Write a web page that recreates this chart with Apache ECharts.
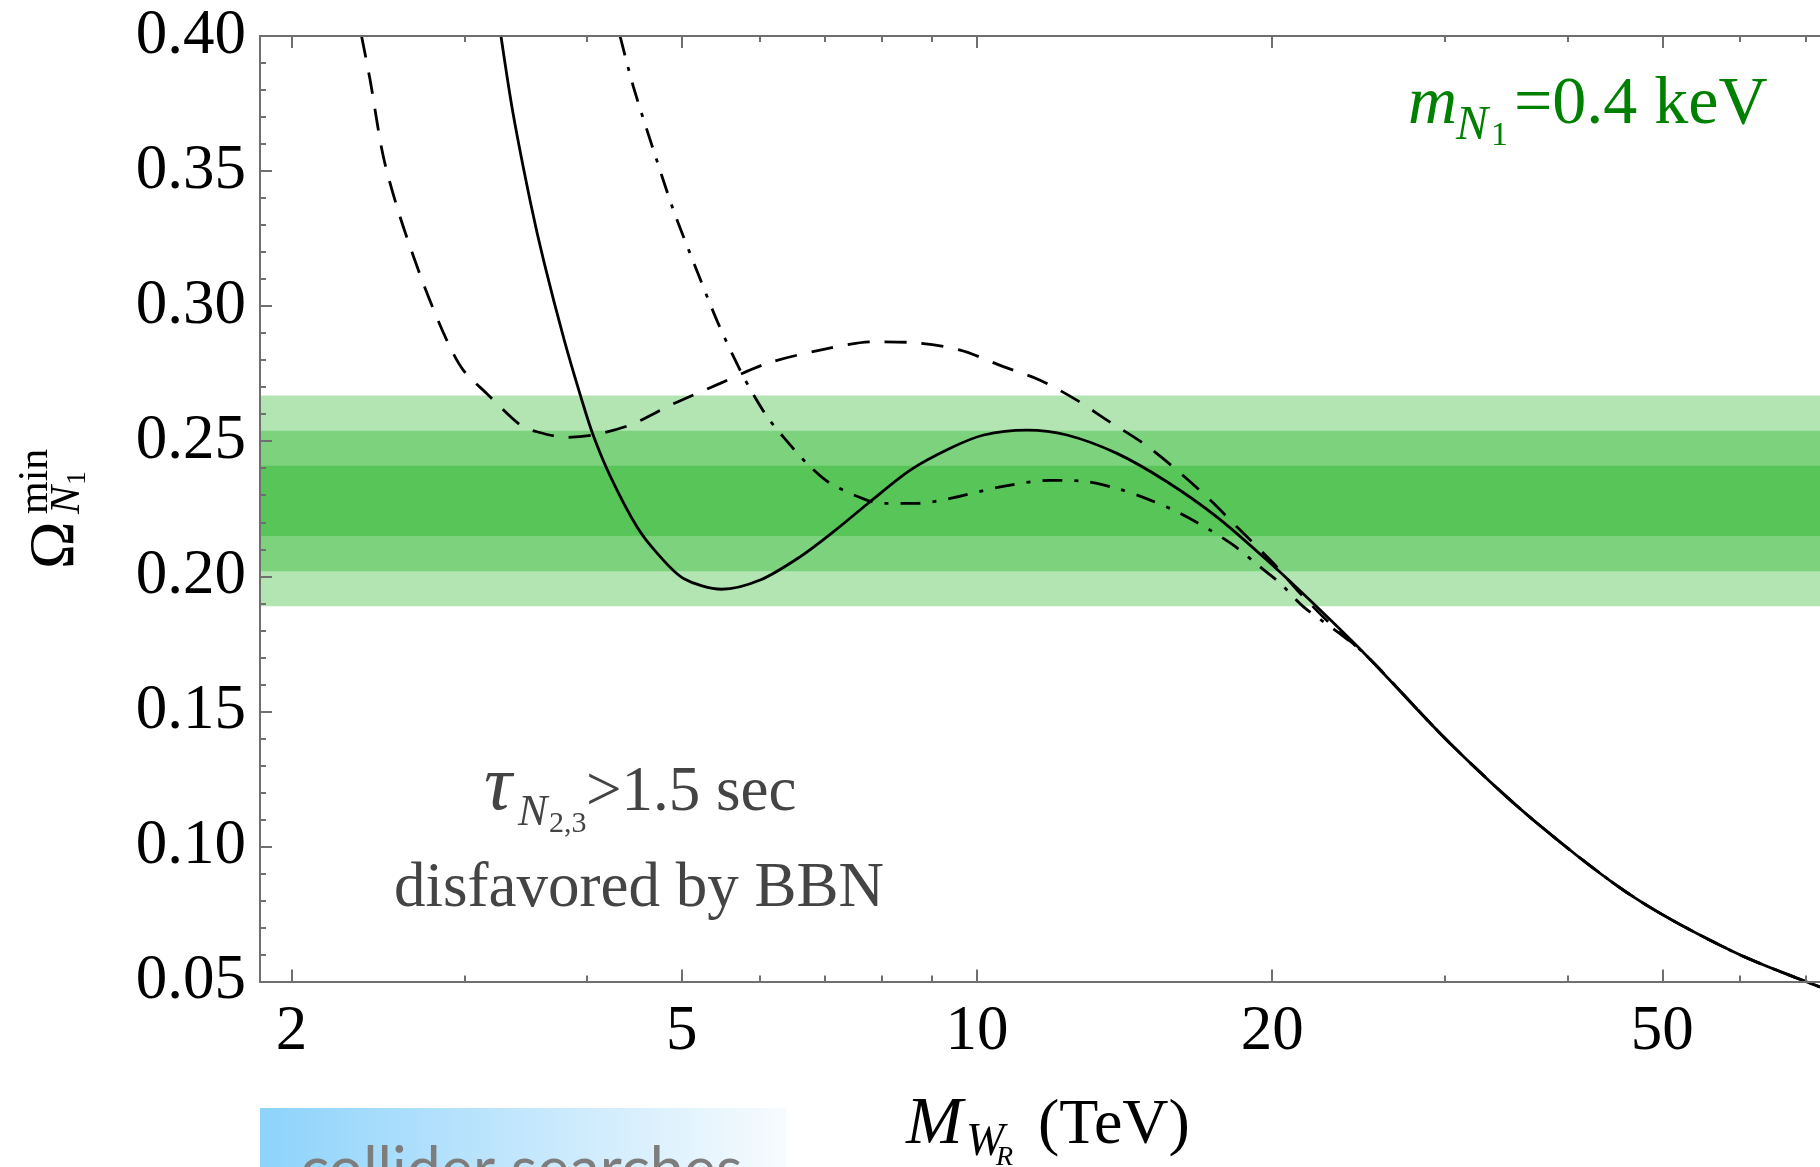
<!DOCTYPE html>
<html>
<head>
<meta charset="utf-8">
<script src="https://cdn.jsdelivr.net/npm/echarts@6/dist/echarts.min.js"></script>
<style>
  html, body { margin: 0; padding: 0; background: #fff; }
  #main { width: 1820px; height: 1167px; }
</style>
</head>
<body>
<div id="main"></div>
<script>
// W_R mass (TeV) and minimal N1 relic abundance
var massSolid = [3.27, 3.364, 3.506, 3.620, 3.794, 3.944, 4.06, 4.23, 4.50, 4.72, 5.02, 5.49, 6.01, 6.60, 7.14, 7.78, 8.55, 9.39, 10.16, 11.24, 12.35, 13.89, 15.62, 17.56, 19.75, 22.21, 24.98, 30.38, 36.95, 46.72, 59.08, 72.4];
var omegaSolid = [0.400, 0.3714, 0.3381, 0.3159, 0.2874, 0.2665, 0.2523, 0.2368, 0.2183, 0.2085, 0.1992, 0.1952, 0.1986, 0.2072, 0.2165, 0.2276, 0.2393, 0.2474, 0.2523, 0.2541, 0.2523, 0.2455, 0.2350, 0.2220, 0.2060, 0.1887, 0.1705, 0.1381, 0.1097, 0.0813, 0.0610, 0.0480];

var massDashed = [2.357, 2.405, 2.481, 2.580, 2.725, 2.879, 2.993, 3.162, 3.421, 3.557, 3.817, 4.063, 4.428, 4.899, 5.471, 6.108, 6.919, 7.841, 8.614, 9.614, 10.64, 11.60, 12.64, 13.57, 14.78, 15.99, 17.29, 18.55, 20.06, 21.36, 23.09, 24.98, 30.38, 36.95, 46.72, 59.08, 72.4];
var omegaDashed = [0.400, 0.3837, 0.3553, 0.3331, 0.3084, 0.2874, 0.2763, 0.2677, 0.2560, 0.2535, 0.2514, 0.2523, 0.2560, 0.2638, 0.2714, 0.2788, 0.2837, 0.2868, 0.2865, 0.2837, 0.2776, 0.2726, 0.2652, 0.2578, 0.2492, 0.2393, 0.2282, 0.2171, 0.2048, 0.1937, 0.1813, 0.1705, 0.1381, 0.1097, 0.0813, 0.0610, 0.0480];

var massDashDot = [4.325, 4.463, 4.678, 4.902, 5.138, 5.446, 5.747, 5.919, 6.108, 6.301, 6.707, 7.085, 7.721, 8.028, 8.682, 9.391, 10.56, 11.88, 12.74, 13.89, 15.02, 15.99, 17.29, 18.26, 19.44, 20.38, 21.53, 23.5, 24.98, 30.38, 36.95, 46.72, 59.08, 72.4];
var omegaDashDot = [0.400, 0.3812, 0.3578, 0.3356, 0.3164, 0.2936, 0.2756, 0.2671, 0.2591, 0.2529, 0.2418, 0.2344, 0.2282, 0.2270, 0.2270, 0.2288, 0.2331, 0.2355, 0.2353, 0.2325, 0.2282, 0.2239, 0.2171, 0.2115, 0.2035, 0.1974, 0.1887, 0.1785, 0.1705, 0.1381, 0.1097, 0.0813, 0.0610, 0.0480];

// observed DM abundance bands (3 sigma, 2 sigma, 1 sigma)
var bandLow = [0.1889, 0.2019, 0.2149];
var bandHigh = [0.2669, 0.2539, 0.2409];
var bandColors = ['#b3e5b3', '#7dd27e', '#58c559'];

// axis ticks
var xMajorTicks = [2, 5, 10, 20, 50];
var xMinorTicks = [3, 4, 6, 7, 8, 9, 30, 40, 60, 70];
var xRange = [1.857, 72.4];
var yRange = [0.05, 0.40];

var axisGray = '#6f6f6f';
var serif = '"Liberation Serif", "Times New Roman", serif';

function toLog(arr) {
  return arr.map(function (v) { return Math.log10(v); });
}
function pairs(xs, ys) {
  return xs.map(function (x, i) { return [Math.log10(x), ys[i]]; });
}
// text piece positioned by its baseline
function piece(text, x, baseline, size, italic, color) {
  return {
    type: 'text',
    x: x,
    y: baseline - 0.338 * size,
    style: {
      text: text,
      font: (italic ? 'italic ' : '') + size + 'px ' + serif,
      fill: color || '#000',
      textAlign: 'left',
      textVerticalAlign: 'middle'
    }
  };
}

var myChart = echarts.init(document.getElementById('main'));

var gridBox = { left: 260, right: 0, top: 36, bottom: 185.5, outerBoundsMode: 'none' };
var xMin = Math.log10(xRange[0]);
var xMax = Math.log10(xRange[1]);

function xAxisDef(grid, pos, ticks, len, withLabels, withLine) {
  return {
    type: 'value',
    gridIndex: grid,
    position: pos,
    min: xMin,
    max: xMax,
    z: 10,
    axisLine: { show: withLine, onZero: false, lineStyle: { color: axisGray, width: 2 } },
    axisTick: {
      show: true,
      inside: true,
      length: len,
      customValues: toLog(ticks),
      lineStyle: { color: axisGray, width: 2 }
    },
    axisLabel: {
      show: withLabels,
      customValues: toLog(ticks),
      margin: 19,
      color: '#000',
      fontFamily: serif,
      fontSize: 63,
      formatter: function (v) { return String(Math.round(Math.pow(10, v))); }
    },
    splitLine: { show: false }
  };
}

var bandAreas = bandLow.map(function (lo, i) {
  return [
    { yAxis: lo, itemStyle: { color: bandColors[i], opacity: 1 } },
    { yAxis: bandHigh[i] }
  ];
});

var option = {
  animation: false,
  backgroundColor: '#fff',
  grid: [
    Object.assign({}, gridBox),
    Object.assign({}, gridBox)
  ],
  xAxis: [
    xAxisDef(0, 'bottom', xMajorTicks, 12, true, true),
    xAxisDef(0, 'top', xMajorTicks, 12, false, true),
    xAxisDef(1, 'bottom', xMinorTicks, 6, false, false),
    xAxisDef(1, 'top', xMinorTicks, 6, false, false)
  ],
  yAxis: [
    {
      type: 'value',
      gridIndex: 0,
      position: 'left',
      min: yRange[0],
      max: yRange[1],
      interval: 0.05,
      z: 10,
      axisLine: { show: true, onZero: false, lineStyle: { color: axisGray, width: 2 } },
      axisTick: { show: true, inside: true, length: 12, lineStyle: { color: axisGray, width: 2 } },
      minorTick: { show: true, splitNumber: 5, length: 6, lineStyle: { color: axisGray, width: 2 } },
      axisLabel: {
        margin: 14,
        color: '#000',
        fontFamily: serif,
        fontSize: 63,
        formatter: function (v) { return v.toFixed(2); }
      },
      splitLine: { show: false }
    },
    { type: 'value', gridIndex: 1, show: false, min: yRange[0], max: yRange[1] }
  ],
  series: [
    {
      type: 'line',
      xAxisIndex: 0,
      yAxisIndex: 0,
      data: [],
      z: 1,
      silent: true,
      markArea: { silent: true, data: bandAreas }
    },
    {
      name: 'solid',
      type: 'line',
      xAxisIndex: 0,
      yAxisIndex: 0,
      data: pairs(massSolid, omegaSolid),
      symbol: 'none',
      smooth: 0.3,
      clip: false,
      z: 5,
      lineStyle: { color: '#000', width: 2.8, type: 'solid' }
    },
    {
      name: 'dashed',
      type: 'line',
      xAxisIndex: 0,
      yAxisIndex: 0,
      data: pairs(massDashed, omegaDashed),
      symbol: 'none',
      smooth: 0.3,
      clip: false,
      z: 5,
      lineStyle: { color: '#000', width: 2.8, type: [22, 15] }
    },
    {
      name: 'dashdot',
      type: 'line',
      xAxisIndex: 0,
      yAxisIndex: 0,
      data: pairs(massDashDot, omegaDashDot),
      symbol: 'none',
      smooth: 0.3,
      clip: false,
      z: 5,
      lineStyle: { color: '#000', width: 2.8, type: [20, 12, 4, 12] }
    }
  ],
  graphic: [
    // m_N1 = 0.4 keV
    piece('m', 1408, 128, 68, true, '#008000'),
    piece('N', 1456, 143, 48, true, '#008000'),
    piece('1', 1491, 148, 34, false, '#008000'),
    piece('=0.4 keV', 1514, 128, 68, false, '#008000'),
    // BBN note
    piece('\u03c4', 484, 815, 78, true, '#444'),
    piece('N', 518, 828, 44, true, '#444'),
    piece('2,3', 549, 834, 30, false, '#444'),
    piece('>1.5 sec', 586, 815, 63, false, '#444'),
    piece('disfavored by BBN', 394, 911, 63, false, '#444'),
    // x axis title
    piece('M', 906, 1148, 68, true, '#000'),
    piece('W', 966, 1158, 46, true, '#000'),
    piece('R', 996, 1167, 28, true, '#000'),
    piece('(TeV)', 1038, 1148, 64, false, '#000'),
    // y axis title, rotated
    {
      type: 'group',
      x: 0,
      y: 569,
      rotation: Math.PI / 2,
      children: [
        piece('\u03a9', 0, 78, 64, false, '#000'),
        piece('min', 55, 50, 42, false, '#000'),
        piece('N', 55, 82, 42, true, '#000'),
        piece('1', 84, 87, 28, false, '#000')
      ]
    },
    // collider searches box (cut by the bottom edge)
    {
      type: 'rect',
      shape: { x: 260, y: 1108, width: 527, height: 80 },
      style: {
        fill: new echarts.graphic.LinearGradient(0, 0, 1, 0, [
          { offset: 0, color: '#8ed3fb' },
          { offset: 1, color: '#f7fbfe' }
        ])
      }
    },
    {
      type: 'text',
      x: 300,
      y: 1171,
      style: {
        text: 'collider searches',
        font: '61px Lato, "Open Sans", sans-serif',
        fill: '#7d7d7d',
        textAlign: 'left',
        textVerticalAlign: 'middle'
      }
    }
  ]
};

myChart.setOption(option);
</script>
</body>
</html>
